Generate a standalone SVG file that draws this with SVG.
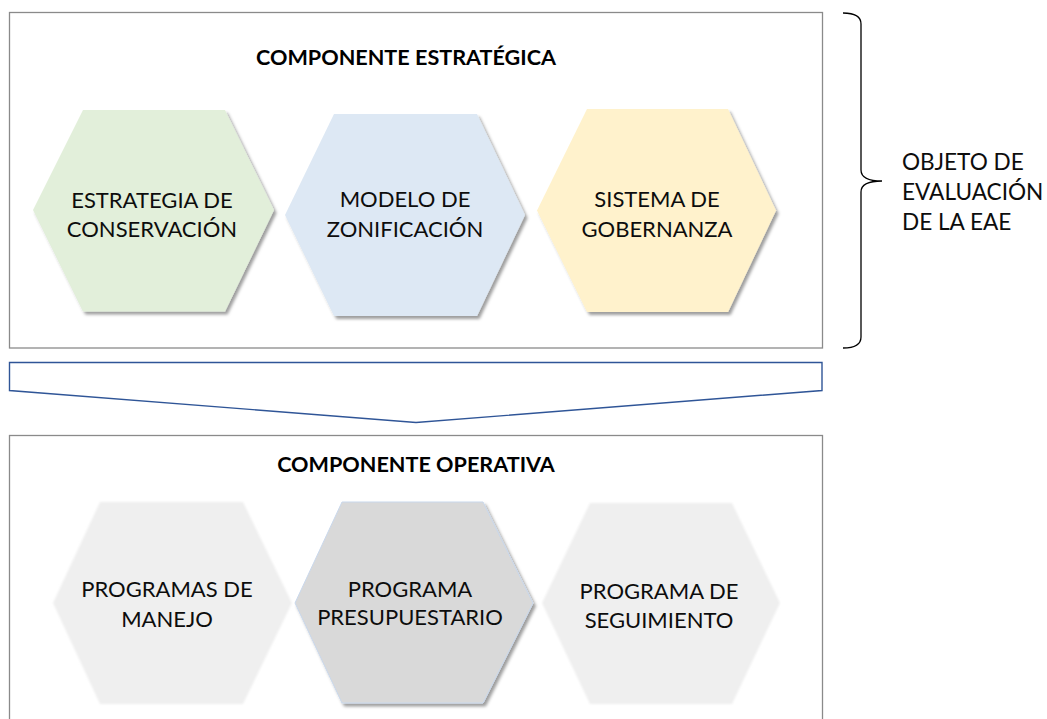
<svg xmlns="http://www.w3.org/2000/svg" width="1047" height="719" viewBox="0 0 1047 719">
<defs>
<filter id="shadow" x="-10%" y="-10%" width="125%" height="125%">
<feDropShadow dx="2.5" dy="3" stdDeviation="1.6" flood-color="#000" flood-opacity="0.38"/>
</filter>
<filter id="soft" x="-5%" y="-5%" width="110%" height="110%">
<feGaussianBlur stdDeviation="1.3"/>
</filter>
</defs>
<style>
.frame{fill:#ffffff;stroke:#8a8a8a;stroke-width:1.3}
.lbl{font-family:Lato,"Open Sans",sans-serif;font-size:22px;fill:#0d0d0d;text-anchor:middle}
.ttl{font-family:Lato,"Open Sans",sans-serif;font-size:21.6px;font-weight:bold;fill:#000000;text-anchor:middle}
.side{font-family:Lato,"Open Sans",sans-serif;font-size:22.6px;fill:#0d0d0d}
.chev{fill:#ffffff;stroke:#2f5597;stroke-width:1.4}
.brace{fill:none;stroke:#000000;stroke-width:1.3}
</style>
<rect width="1047" height="719" fill="#ffffff"/>

<g id="componente-estrategica">
<rect class="frame" x="9.5" y="12.5" width="813" height="335.5"/>
<text class="ttl" x="406" y="65">COMPONENTE ESTRATÉGICA</text>
</g>

<g id="estrategia-conservacion">
<polygon points="33,210 83,110 225,110 274,210 225,311.5 83,311.5" fill="#e2efda" filter="url(#shadow)"/>
<text class="lbl" x="152" y="208">ESTRATEGIA DE</text>
<text class="lbl" x="152" y="237">CONSERVACIÓN</text>
</g>

<g id="modelo-zonificacion">
<polygon points="285,215 334,114 477,114 525,215 477,316 334,316" fill="#dde8f4" filter="url(#shadow)"/>
<text class="lbl" x="405" y="207">MODELO DE</text>
<text class="lbl" x="405" y="237">ZONIFICACIÓN</text>
</g>

<g id="sistema-gobernanza">
<polygon points="537,210.5 587,109 728,109 776,210.5 728,312 587,312" fill="#fff2cc" filter="url(#shadow)"/>
<text class="lbl" x="657" y="207">SISTEMA DE</text>
<text class="lbl" x="657" y="237">GOBERNANZA</text>
</g>

<g id="objeto-evaluacion">
<path class="brace" d="M843,13 Q861,13 861,24 L861,170 Q861,181 882,181 Q861,181 861,192 L861,337 Q861,348 843,348"/>
<text class="side" x="902" y="170">OBJETO DE</text>
<text class="side" x="902" y="200">EVALUACIÓN</text>
<text class="side" x="902" y="230">DE LA EAE</text>
</g>

<g id="connectors">
<polygon class="chev" points="9.5,362.5 822,362.5 822,390.5 416,422.5 9.5,390.5"/>
</g>

<g id="componente-operativa">
<rect class="frame" x="9.5" y="435.5" width="813" height="300"/>
<text class="ttl" x="416" y="472">COMPONENTE OPERATIVA</text>
</g>

<g id="programas-manejo">
<polygon points="53,603 100,502 243,502 292,603 243,704 100,704" fill="#efefef" filter="url(#soft)"/>
<text class="lbl" x="167" y="597">PROGRAMAS DE</text>
<text class="lbl" x="167" y="627">MANEJO</text>
</g>

<g id="programa-presupuestario">
<polygon points="295,603 342,502 483,502 533,603 483,703 342,703" fill="#d9d9d9" stroke="#c9d8ec" stroke-width="1" filter="url(#shadow)"/>
<text class="lbl" x="410" y="597">PROGRAMA</text>
<text class="lbl" x="410" y="625">PRESUPUESTARIO</text>
</g>

<g id="programa-seguimiento">
<polygon points="542,603 590,503 732,503 780,603 732,704 590,704" fill="#efefef" filter="url(#soft)"/>
<text class="lbl" x="659" y="599">PROGRAMA DE</text>
<text class="lbl" x="659" y="628">SEGUIMIENTO</text>
</g>
</svg>
